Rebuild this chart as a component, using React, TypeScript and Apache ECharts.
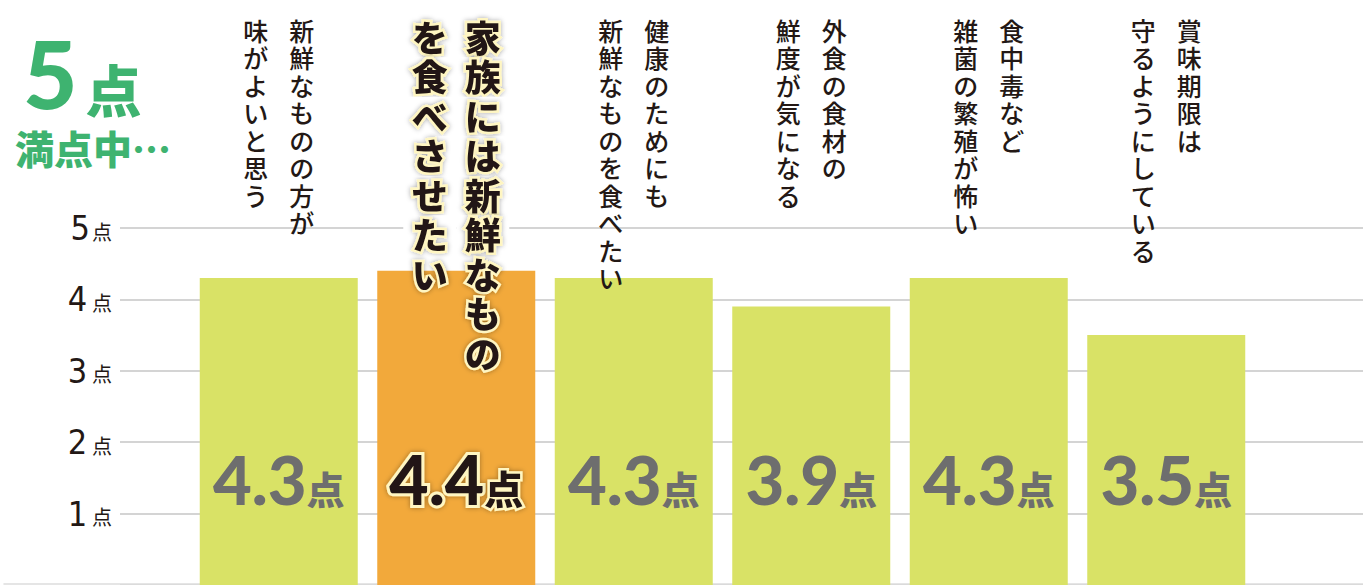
import React, { useEffect, useRef } from "react";
import * as echarts from "echarts";

// ---- data ----
// each category: right column (read first) + "\n" + left column (vertical Japanese text)
const categories = [
  "新鮮なものの方が\n味がよいと思う",
  "家族には新鮮なもの\nを食べさせたい",
  "健康のためにも\n新鮮なものを食べたい",
  "外食の食材の\n鮮度が気になる",
  "食中毒など\n雑菌の繁殖が怖い",
  "賞味期限は\n守るようにしている",
];
const scores = [4.3, 4.4, 4.3, 3.9, 4.3, 3.5];
const highlightIndex = 1;
const yTickNumbers = ["0", "1", "2", "3", "4", "5"];
const yTickSpacer = [" ", " ", " ", " ", " ", ""];
const titleMain = ["5", "点"];
const titleSub = "満点中…";

const GREEN_BAR = "#D9E266";
const ORANGE_BAR = "#F2A93B";
const TITLE_GREEN = "#3EB370";
const INK = "#231815";
const JP = "'Noto Sans CJK JP', 'Noto Sans', sans-serif";
const NUM = "Lato, Inter, 'Noto Sans CJK JP', sans-serif";

function verticalLabel(label: string, hl: boolean): string {
  const [right, left] = label.split("\n");
  const n = Math.max(right.length, left.length);
  const lines: string[] = [];
  for (let i = 0; i < n; i++) {
    const l = left[i] ?? "　";
    const r = right[i] ?? "　";
    if (hl) {
      const s = i < 6 ? "hb" : "h";
      lines.push(`{${s}|${l}}{${s}|${r}}`);
    } else {
      lines.push(`{c|${l}}{c|${r}}`);
    }
  }
  return lines.join("\n");
}

export default function App() {
  const ref = useRef<HTMLDivElement>(null);
  useEffect(() => {
    document.body.style.margin = "0";
    const chart = echarts.init(ref.current!, undefined, { renderer: "svg" });
    const hlText = {
      fontSize: 36,
      lineHeight: 39.5,
      width: 53,
      align: "center",
      fontFamily: JP,
      fontWeight: 900,
      color: INK,
      textBorderColor: "#FFF6C2",
      textBorderWidth: 5,
      textShadowColor: "rgba(0,0,0,0.35)",
      textShadowBlur: 5,
    };
    chart.setOption({
      animation: false,
      backgroundColor: "#ffffff",
      title: [
        {
          text: `{a|${titleMain[0]}}{b|${titleMain[1]}}`,
          left: 18,
          top: 20,
          textStyle: {
            rich: {
              a: { fontSize: 94, fontWeight: 900, fontFamily: NUM, color: TITLE_GREEN, lineHeight: 94, verticalAlign: "bottom" },
              b: { fontSize: 56, fontWeight: 900, fontFamily: JP, color: TITLE_GREEN, lineHeight: 64, verticalAlign: "bottom", padding: [0, 0, 4, 8] },
            },
          },
        },
        {
          text: titleSub,
          left: 10,
          top: 122,
          textStyle: { fontSize: 39, fontWeight: 900, fontFamily: JP, color: TITLE_GREEN },
        },
      ],
      grid: [
        { left: 120, right: 0, top: 228, bottom: 0 },
        { left: 4, right: 0, top: 228, bottom: 1 },
        { left: 190, width: 1065, top: 228, bottom: 0 },
      ],
      xAxis: [
        { gridIndex: 0, type: "value", show: false },
        {
          gridIndex: 1,
          type: "category",
          data: ["a"],
          axisLine: { show: true, lineStyle: { color: "#dddddd", width: 1.5 } },
          axisTick: { show: false },
          axisLabel: { show: false },
        },
        {
          gridIndex: 2,
          type: "category",
          position: "top",
          data: categories,
          z: 5,
          axisLine: { show: false },
          axisTick: { show: false },
          splitLine: { show: false },
          axisLabel: {
            interval: 0,
            margin: 212,
            verticalAlign: "top",
            formatter: (v: string, i: number) => verticalLabel(v, i === highlightIndex),
            rich: {
              c: { fontSize: 25, lineHeight: 27.5, width: 46, align: "center", fontFamily: JP, fontWeight: 500, color: INK },
              h: hlText,
              hb: { ...hlText, backgroundColor: "#ffffff" },
            },
          },
        },
      ],
      yAxis: [
        {
          gridIndex: 0,
          type: "value",
          min: 0,
          max: 5,
          interval: 1,
          z: 0,
          axisLine: { show: false },
          axisTick: { show: false },
          splitLine: { show: true, lineStyle: { color: "#c6c6c6", width: 1.5 } },
          axisLabel: {
            showMinLabel: false,
            margin: 8,
            formatter: (v: number) => {
              const i = Math.round(v);
              return `{n|${yTickNumbers[i]}}{s|${yTickSpacer[i]}}{p|点}`;
            },
            rich: {
              n: { fontSize: 34, fontFamily: "'Liberation Sans Narrow', 'DejaVu Sans Condensed', sans-serif", color: INK, lineHeight: 34, verticalAlign: "bottom" },
              s: { fontSize: 10, lineHeight: 34, verticalAlign: "bottom" },
              p: { fontSize: 20, fontFamily: JP, color: INK, lineHeight: 24, verticalAlign: "bottom", padding: [0, 0, 4, 2] },
            },
          },
        },
        { gridIndex: 1, type: "value", show: false, min: 0, max: 5 },
        { gridIndex: 2, type: "value", show: false, min: 0, max: 5 },
      ],
      series: [
        {
          type: "bar",
          xAxisIndex: 2,
          yAxisIndex: 2,
          barWidth: 158,
          z: 2,
          itemStyle: { color: GREEN_BAR },
          data: scores.map((v, i) =>
            i === highlightIndex ? { value: v, itemStyle: { color: ORANGE_BAR } } : v
          ),
          label: {
            show: true,
            position: "insideBottom",
            distance: 73,
            formatter: (p: any) =>
              p.dataIndex === highlightIndex
                ? `{hn|${p.value}}{hp|点}`
                : `{n|${p.value}}{p|点}`,
            rich: {
              n: { fontSize: 67, fontWeight: 900, fontFamily: NUM, color: "#6E6E6E", lineHeight: 66, verticalAlign: "bottom" },
              p: { fontSize: 38, fontWeight: 900, fontFamily: JP, color: "#6E6E6E", lineHeight: 44, verticalAlign: "bottom", padding: [0, 0, 6, 0] },
              hn: {
                fontSize: 68, fontWeight: 900, fontFamily: NUM, color: INK, lineHeight: 66, verticalAlign: "bottom",
                textBorderColor: "#FFF6C2", textBorderWidth: 6, textShadowColor: "rgba(0,0,0,0.35)", textShadowBlur: 5,
              },
              hp: {
                fontSize: 39, fontWeight: 900, fontFamily: JP, color: INK, lineHeight: 44, verticalAlign: "bottom", padding: [0, 0, 6, 0],
                textBorderColor: "#FFF6C2", textBorderWidth: 5, textShadowColor: "rgba(0,0,0,0.35)", textShadowBlur: 5,
              },
            },
          },
        },
      ],
    });
    return () => chart.dispose();
  }, []);
  return <div ref={ref} style={{ width: 1363, height: 585 }} />;
}
